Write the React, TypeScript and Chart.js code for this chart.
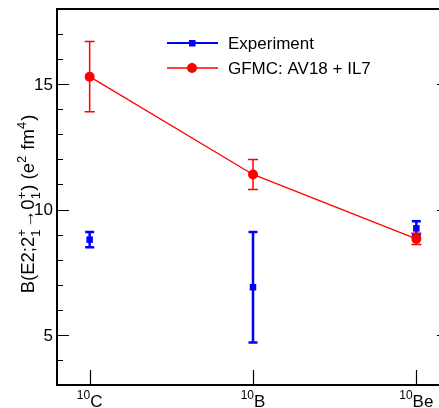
import React, { useEffect, useRef } from 'react';
import { Chart, registerables } from 'chart.js';

Chart.register(...registerables);

const massNumbers = ['10', '10', '10'];
const elements = ['C', 'B', 'Be'];
const xPositions = [0, 1, 2];
const expValues = [8.8, 6.9, 9.25];
const expErrors = [0.3, 2.2, 0.28];
const gfmcValues = [15.3, 11.4, 8.83];
const gfmcErrors = [1.4, 0.6, 0.22];
const yMajorTicks = [5, 10, 15];
const yMinorTicks = [4, 6, 7, 8, 9, 11, 12, 13, 14, 16, 17];
const seriesLabels = ['Experiment', 'GFMC: AV18 + IL7'];

const CANVAS_W = 460;
const CANVAS_H = 408;
const FONT = '"Liberation Sans", Arial, Helvetica, sans-serif';

type Seg = { t?: string; sup?: string; sub?: string };

const titleSegs: Seg[] = [
  { t: 'B(E2;2' },
  { sup: '+', sub: '1' },
  { t: '\u21920' },
  { sup: '+', sub: '1' },
  { t: ') (e' },
  { sup: '2' },
  { t: ' fm' },
  { sup: '4' },
  { t: ')' },
];

function drawRich(ctx: CanvasRenderingContext2D, segs: Seg[], size: number, cx: number, cy: number, rot: number) {
  const big = `${size}px ${FONT}`;
  const small = `${Math.round(size * 0.68)}px ${FONT}`;
  const widths = segs.map((s) => {
    if (s.t !== undefined) { ctx.font = big; return ctx.measureText(s.t).width; }
    ctx.font = small;
    return Math.max(s.sup ? ctx.measureText(s.sup).width : 0, s.sub ? ctx.measureText(s.sub).width : 0) + 1;
  });
  const total = widths.reduce((a, b) => a + b, 0);
  ctx.save();
  ctx.translate(cx, cy);
  ctx.rotate(rot);
  ctx.textBaseline = 'alphabetic';
  ctx.textAlign = 'left';
  let x = -total / 2;
  segs.forEach((s, i) => {
    if (s.t !== undefined) {
      ctx.font = big;
      ctx.fillText(s.t, x, 0);
    } else {
      ctx.font = small;
      if (s.sup) ctx.fillText(s.sup, x, -size * 0.45);
      if (s.sub) ctx.fillText(s.sub, x, size * 0.3);
    }
    x += widths[i];
  });
  ctx.restore();
}

const framePlugin = {
  id: 'rootFrame',
  beforeDatasetsDraw(chart: any) {
    const { ctx, scales } = chart;
    const xs = scales.x, ys = scales.y;
    const sets = [
      { vals: expValues, errs: expErrors, color: '#0000ff', lw: 2.5, cap: 4.5 },
      { vals: gfmcValues, errs: gfmcErrors, color: '#ff0000', lw: 1.5, cap: 5 },
    ];
    ctx.save();
    sets.forEach((s) => {
      ctx.strokeStyle = s.color;
      ctx.lineWidth = s.lw;
      s.vals.forEach((v, i) => {
        const px = xs.getPixelForValue(xPositions[i]);
        const top = ys.getPixelForValue(v + s.errs[i]);
        const bot = ys.getPixelForValue(v - s.errs[i]);
        ctx.beginPath();
        ctx.moveTo(px, top); ctx.lineTo(px, bot);
        ctx.moveTo(px - s.cap, top); ctx.lineTo(px + s.cap, top);
        ctx.moveTo(px - s.cap, bot); ctx.lineTo(px + s.cap, bot);
        ctx.stroke();
      });
    });
    ctx.restore();
  },
  afterDraw(chart: any) {
    const { ctx, chartArea: a, scales } = chart;
    const xs = scales.x, ys = scales.y;
    ctx.save();
    ctx.strokeStyle = '#000';
    ctx.fillStyle = '#000';
    ctx.lineWidth = 2;
    ctx.strokeRect(a.left, a.top, a.right - a.left, a.bottom - a.top);
    ctx.lineWidth = 1.2;
    ctx.beginPath();
    yMajorTicks.forEach((v) => {
      const py = Math.round(ys.getPixelForValue(v)) + 0.5;
      ctx.moveTo(a.left, py); ctx.lineTo(a.left + 12, py);
      ctx.moveTo(a.right, py); ctx.lineTo(a.right - 12, py);
    });
    yMinorTicks.forEach((v) => {
      const py = Math.round(ys.getPixelForValue(v)) + 0.5;
      ctx.moveTo(a.left, py); ctx.lineTo(a.left + 6, py);
      ctx.moveTo(a.right, py); ctx.lineTo(a.right - 6, py);
    });
    xPositions.forEach((v) => {
      const px = Math.round(xs.getPixelForValue(v)) + 0.5;
      ctx.moveTo(px, a.bottom); ctx.lineTo(px, a.bottom - 15);
    });
    ctx.stroke();

    // y tick labels
    ctx.font = `17px ${FONT}`;
    ctx.textAlign = 'right';
    ctx.textBaseline = 'middle';
    yMajorTicks.forEach((v) => {
      ctx.fillText(String(v), a.left - 4, ys.getPixelForValue(v) + 1);
    });

    // x tick labels
    ctx.textBaseline = 'alphabetic';
    ctx.textAlign = 'left';
    xPositions.forEach((v, i) => {
      ctx.font = `12px ${FONT}`;
      const w1 = ctx.measureText(massNumbers[i]).width;
      ctx.font = `17px ${FONT}`;
      const w2 = ctx.measureText(elements[i]).width;
      const px = xs.getPixelForValue(v);
      const x0 = px - (w1 + w2) / 2;
      ctx.font = `12px ${FONT}`;
      ctx.fillText(massNumbers[i], x0, 399);
      ctx.font = `17px ${FONT}`;
      ctx.fillText(elements[i], x0 + w1, 407);
    });

    // y title
    drawRich(ctx, titleSegs, 18.5, 34, 204, -Math.PI / 2);

    // legend
    const ds = chart.data.datasets;
    const rows = [43, 68];
    ds.forEach((d: any, i: number) => {
      const y = rows[i];
      ctx.strokeStyle = d.borderColor;
      ctx.fillStyle = d.borderColor;
      ctx.lineWidth = i === 0 ? 2 : 1.5;
      ctx.beginPath();
      ctx.moveTo(167, y); ctx.lineTo(218, y);
      ctx.stroke();
      if (i === 0) {
        ctx.fillRect(189, y - 3, 6.5, 6.5);
      } else {
        ctx.beginPath();
        ctx.arc(192, y, 5, 0, Math.PI * 2);
        ctx.fill();
      }
      ctx.fillStyle = '#000';
      ctx.font = `17px ${FONT}`;
      ctx.textAlign = 'left';
      ctx.textBaseline = 'middle';
      ctx.fillText(d.label, 228, y + 1);
    });
    ctx.restore();
  },
};

export default function App() {
  const ref = useRef<HTMLCanvasElement | null>(null);
  useEffect(() => {
    if (!ref.current) return;
    const chart = new Chart(ref.current, {
      type: 'scatter',
      data: {
        datasets: [
          {
            label: seriesLabels[0],
            data: xPositions.map((x, i) => ({ x, y: expValues[i] })),
            showLine: false,
            pointStyle: 'rect',
            pointRadius: 4.6,
            borderWidth: 0,
            backgroundColor: '#0000ff',
            borderColor: '#0000ff',
            order: 1,
          },
          {
            label: seriesLabels[1],
            data: xPositions.map((x, i) => ({ x, y: gfmcValues[i] })),
            showLine: true,
            pointStyle: 'circle',
            pointRadius: 5,
            pointBorderWidth: 0,
            borderWidth: 1.3,
            backgroundColor: '#ff0000',
            borderColor: '#ff0000',
            order: 0,
          },
        ],
      },
      options: {
        responsive: false,
        animation: false,
        events: [],
        layout: { padding: { left: 57, top: 9, right: CANVAS_W - 449, bottom: CANVAS_H - 385 } },
        scales: {
          x: { type: 'linear', min: -0.2, max: 2.2, display: false },
          y: { type: 'linear', min: 3, max: 18, display: false },
        },
        plugins: { legend: { display: false }, tooltip: { enabled: false } },
      },
      plugins: [framePlugin],
    } as any);
    return () => chart.destroy();
  }, []);
  return (
    <div style={{ position: 'fixed', left: 0, top: 0, width: 439, height: 408, overflow: 'hidden', background: '#fff' }}>
      <canvas ref={ref} width={CANVAS_W} height={CANVAS_H} style={{ display: 'block', width: CANVAS_W, height: CANVAS_H }} />
    </div>
  );
}
